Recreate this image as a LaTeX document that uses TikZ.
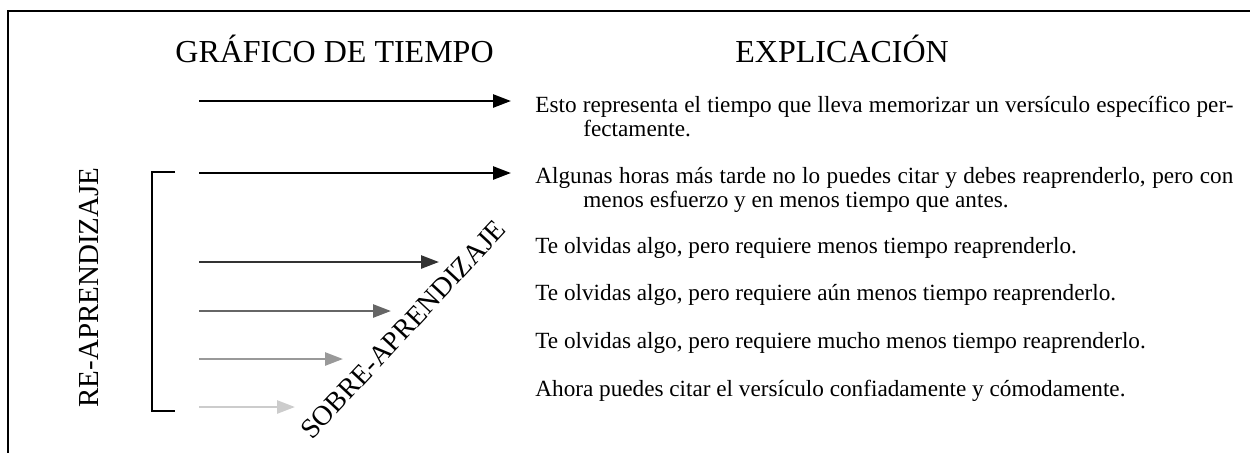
\documentclass[tikz,border=0pt]{standalone}
\usepackage{fontspec}
\setmainfont{Liberation Serif}
\usetikzlibrary{arrows.meta}
\definecolor{g1}{gray}{0.2}
\definecolor{g2}{gray}{0.4}
\definecolor{g3}{gray}{0.6}
\definecolor{g4}{gray}{0.8}
\tikzset{
  frameline/.style={line width=1.3pt},
  timearrow/.style={line width=1.3pt,-{Triangle[length=9pt,width=6.5pt]}},
  heading/.style={font=\fontsize{16}{19}\selectfont,inner sep=0pt,anchor=base west},
  sidelabel/.style={font=\fontsize{14.5}{17}\selectfont,inner sep=0pt,anchor=base west},
  expl/.style={font=\fontsize{11.6}{12}\selectfont,inner sep=0pt,anchor=base west},
}
\begin{document}
\begin{tikzpicture}[x=0.5pt,y=-0.5pt]
\useasboundingbox (0,0) rectangle (1250,452);
% frame (only top and left visible)
\coordinate (fbl) at (8,460);
\coordinate (ftl) at (8,11);
\coordinate (ftr) at (1260,11);
\draw[frameline] (fbl) -- (ftl) -- (ftr);
% headings
\node[heading] (h1) at (175,62) {GRÁFICO DE TIEMPO};
\node[heading] (h2) at (735,62) {EXPLICACIÓN};
% arrows
\coordinate (s1) at (199,101); \coordinate (e1) at (511,101);
\coordinate (s2) at (199,173); \coordinate (e2) at (511,173);
\coordinate (s3) at (199,262); \coordinate (e3) at (439,262);
\coordinate (s4) at (199,311); \coordinate (e4) at (391,311);
\coordinate (s5) at (199,359); \coordinate (e5) at (343,359);
\coordinate (s6) at (199,407); \coordinate (e6) at (295,407);
\draw[timearrow,black] (s1) -- (e1);
\draw[timearrow,black] (s2) -- (e2);
\draw[timearrow,g1] (s3) -- (e3);
\draw[timearrow,g2] (s4) -- (e4);
\draw[timearrow,g3] (s5) -- (e5);
\draw[timearrow,g4] (s6) -- (e6);
% bracket
\coordinate (bt) at (175,172);
\coordinate (bb) at (175,411);
\draw[line width=1.1pt] (bt) -- (152,172) -- (152,411) -- (bb);
% side labels
\node[sidelabel,rotate=90] (re) at (98,408) {RE-APRENDIZAJE};
\node[sidelabel,rotate=47,font=\fontsize{14}{16}\selectfont] (sobre) at (312,441) {SOBRE-APRENDIZAJE};
% explanations
\node[expl] (x1) at (535,112) {\parbox[t]{349pt}{\hangindent=24pt\hangafter=1 Esto representa el tiempo que lleva memorizar un versículo específico per-\linebreak fectamente.}};
\node[expl] (x2) at (535,183) {\parbox[t]{349pt}{\hangindent=24pt\hangafter=1 Algunas horas más tarde no lo puedes citar y debes reaprenderlo, pero con\linebreak menos esfuerzo y en menos tiempo que antes.}};
\node[expl] (x3) at (535,253) {Te olvidas algo, pero requiere menos tiempo reaprenderlo.};
\node[expl] (x4) at (535,300) {Te olvidas algo, pero requiere aún menos tiempo reaprenderlo.};
\node[expl] (x5) at (535,348) {Te olvidas algo, pero requiere mucho menos tiempo reaprenderlo.};
\node[expl] (x6) at (535,396) {Ahora puedes citar el versículo confiadamente y cómodamente.};
\end{tikzpicture}
\end{document}
